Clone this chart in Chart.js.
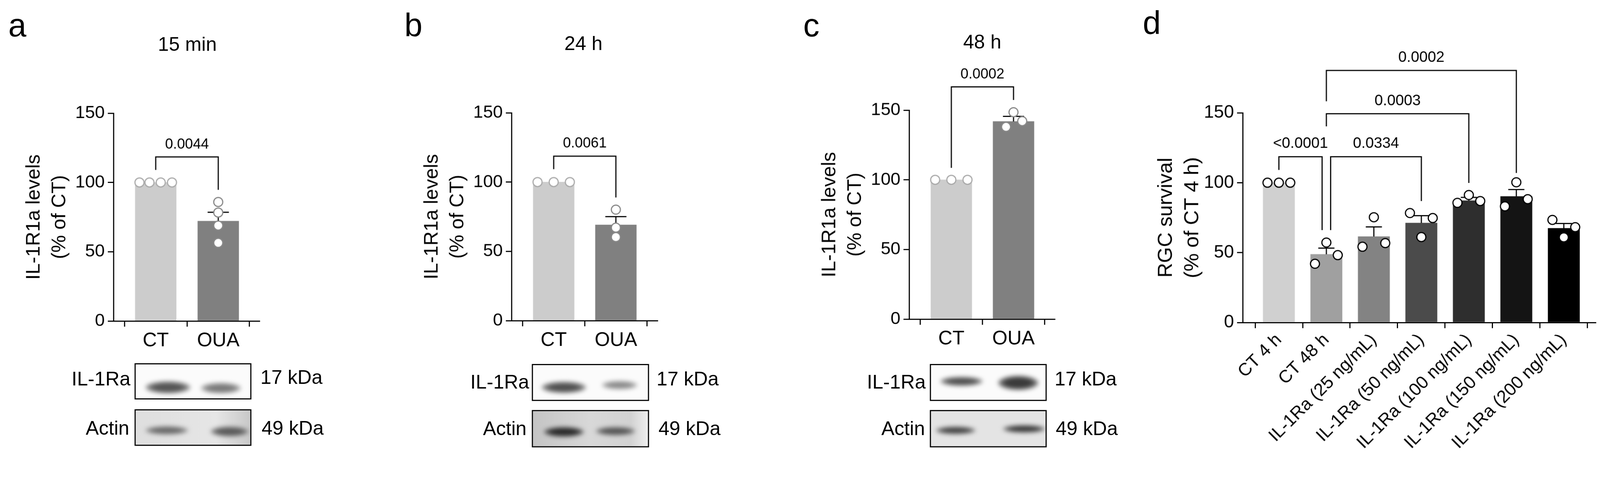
<!DOCTYPE html>
<html><head><meta charset="utf-8">
<script src="https://cdn.jsdelivr.net/npm/chart.js@4"></script>
<style>
html,body{margin:0;padding:0;overflow:hidden;background:#fff;}
#root{width:4245px;height:1233px;background:#fff;position:relative;overflow:hidden;font-family:"Liberation Sans",Arial,sans-serif;transform-origin:0 0;}
canvas{position:absolute;top:0;}
.t{position:absolute;color:#000;white-space:nowrap;line-height:1;}
.box{position:absolute;border:3px solid #000;overflow:hidden;box-sizing:border-box;}
.band{position:absolute;border-radius:50%;filter:blur(6px);}
</style></head><body><div id="root"></div>
<script>
// ---------- data ----------
const catsABC = ['CT','OUA'];
const titlesABC = ['15 min','24 h','48 h'];
const meanA = [100, 72.1], semTopA = [100, 78.5];
const ctPtsA = [100,100,100,100], ouaPtsA = [85.9,78.3,68.9,56.4];
const pA = '0.0044';
const meanB = [100, 69.1], semTopB = [100, 75.1];
const ctPtsB = [100,100,100], ouaPtsB = [80.1,67.1,60.3];
const pB = '0.0061';
const meanC = [100, 141.9], semTopC = [100, 145.5];
const ctPtsC = [100,100,100], ouaPtsC = [148.5,138.0,142.1];
const pC = '0.0002';
const catsD = ['CT 4 h','CT 48 h','IL-1Ra (25 ng/mL)','IL-1Ra (50 ng/mL)','IL-1Ra (100 ng/mL)','IL-1Ra (150 ng/mL)','IL-1Ra (200 ng/mL)'];
const meanD = [100, 48.8, 61.5, 71.2, 87.2, 90.2, 67.4];
const semTopD = [100, 53.2, 68.4, 76.4, 89.5, 95.1, 70.8];
const ptsD = [[100,100,100],[42.0,57.2,48.2],[54.2,75.3,56.8],[78.3,61.1,74.7],[85.6,91.2,86.9],[83.1,100.3,88.2],[73.4,60.9,68.2]];
const pD = ['<0.0001','0.0334','0.0003','0.0002'];
const yTicks = [0,50,100,150];

// ---------- layout / style (not data) ----------
const root=document.getElementById('root');
const sc=Math.min(window.innerWidth/4245, window.innerHeight/1233, 1);
if(sc<0.999) root.style.transform='scale('+sc+')';
const FONT = '"Liberation Sans", Arial, sans-serif';
const barColorsD = ['#d0d0d0','#a0a0a0','#838383','#4b4b4b','#2e2e2e','#141414','#000000'];
const jit4 = [-0.26,-0.1,0.08,0.26], jit3 = [-0.26,0,0.26], jitD = [-0.24,0,0.24];

const annot = {
  id:'annot',
  afterDatasetDraw(chart, args, o){
    if(args.index!==0) return;
    const c=chart.ctx, x=chart.scales.x, y=chart.scales.y;
    c.save(); c.strokeStyle='#000'; c.lineWidth=o.lw;
    o.err.forEach((e,i)=>{
      if(e.top<=e.mean) return;
      const px=x.getPixelForValue(i+1);
      c.beginPath(); c.moveTo(px,y.getPixelForValue(e.mean)); c.lineTo(px,y.getPixelForValue(e.top));
      c.moveTo(x.getPixelForValue(i+1-o.cap),y.getPixelForValue(e.top)); c.lineTo(x.getPixelForValue(i+1+o.cap),y.getPixelForValue(e.top));
      c.stroke();
    });
    c.restore();
  },
  afterDraw(chart, args, o){
    const c=chart.ctx, x=chart.scales.x, y=chart.scales.y;
    c.save(); c.strokeStyle='#000'; c.lineWidth=o.lw; c.fillStyle='#000';
    c.font=o.pf+'px '+FONT; c.textAlign='center'; c.textBaseline='bottom';
    o.br.forEach(b=>{
      const x1=x.getPixelForValue(b.x1), x2=x.getPixelForValue(b.x2), t=y.getPixelForValue(b.top);
      c.beginPath(); c.moveTo(x1,y.getPixelForValue(b.y1)); c.lineTo(x1,t); c.lineTo(x2,t); c.lineTo(x2,y.getPixelForValue(b.y2)); c.stroke();
      c.fillText(b.label,(x1+x2)/2,t-14);
    });
    c.restore();
  }
};

function makeChart(cfg){
  const L = cfg.ax - 290;
  const W = cfg.ae - L + 50;
  const H = Math.min(1233, cfg.y0 + cfg.xh + 20);
  const cv=document.createElement('canvas');
  cv.width=W; cv.height=H; cv.style.left=L+'px';
  root.appendChild(cv);
  const ds=[{type:'bar',data:cfg.means.map((v,i)=>({x:i+1,y:v})),backgroundColor:cfg.colors,barThickness:cfg.bw,order:1}];
  cfg.points.forEach((pts,i)=>{
    const jj = cfg.pjit ? cfg.pjit[i] : cfg.jd;
    ds.push({type:'scatter',data:pts.map((v,k)=>({x:i+1+jj[k],y:v})),pointRadius:cfg.pr,pointBackgroundColor:'#fff',
      pointBorderColor:cfg.pc[i],pointBorderWidth:3,clip:false,order:0});
  });
  const cats=cfg.cats;
  const pad={top:cfg.y150,right:50,left:20,bottom:10};
  const ch=new Chart(cv,{type:'bar',data:{datasets:ds},options:{
    responsive:false,animation:false,devicePixelRatio:1,
    layout:{padding:pad},
    plugins:{legend:{display:false},tooltip:{enabled:false},
      annot:{err:cfg.means.map((m,i)=>({mean:m,top:cfg.semTop[i]})),cap:0.17,lw:3,br:cfg.br,pf:cfg.pf}},
    scales:{
      x:{type:'linear',min:cfg.xmin,max:cfg.xmax,offset:false,
        afterBuildTicks:a=>{a.ticks=cats.map((c,i)=>({value:i+1}));},
        afterFit:a=>{a.height=cfg.xh;},
        ticks:{callback:(v,i)=>cats[i],color:'#000',font:{family:FONT,size:cfg.xf},padding:cfg.xpad||6,autoSkip:false,
          minRotation:cfg.rot||0,maxRotation:cfg.rot||0},
        grid:{drawOnChartArea:false,drawTicks:true,tickLength:15,color:'#000',lineWidth:3},
        border:{display:true,color:'#000',width:3}},
      y:{min:0,max:150,
        afterBuildTicks:a=>{a.ticks=yTicks.map(v=>({value:v}));},
        afterFit:a=>{a.width=cfg.yw;},
        ticks:{color:'#000',font:{family:FONT,size:cfg.yf},padding:8},
        grid:{drawOnChartArea:false,drawTicks:true,tickLength:15,color:'#000',lineWidth:3},
        border:{display:true,color:'#000',width:3},
        title:{display:true,text:cfg.ytitle,color:'#000',font:{family:FONT,size:cfg.ytf,lineHeight:cfg.ylh},padding:{top:cfg.ytp,bottom:0}}}
    }},plugins:[annot]});
  for(let k=0;k<3;k++){
    const ca=ch.chartArea;
    pad.left += (cfg.ax - L) - ca.left;
    pad.right += ca.right - (cfg.ae - L);
    pad.top += cfg.y150 - ca.top;
    pad.bottom += ca.bottom - cfg.y0;
    ch.options.layout.padding={...pad};
    ch.update();
  }
}

function txt(s,x,y,size,align){
  const d=document.createElement('div'); d.className='t'; d.textContent=s;
  d.style.fontSize=size+'px'; d.style.top=(y-size*0.5)+'px';
  if(align==='center'){d.style.left=x+'px';d.style.transform='translateX(-50%)';}
  else if(align==='right'){d.style.right=(4245-x)+'px';}
  else d.style.left=x+'px';
  root.appendChild(d);
}
function box(x1,y1,x2,y2,bg,bands){
  const b=document.createElement('div'); b.className='box';
  Object.assign(b.style,{left:x1+'px',top:y1+'px',width:(x2-x1)+'px',height:(y2-y1)+'px',background:bg});
  bands.forEach(([l,r,cy,h,col])=>{
    const d=document.createElement('div'); d.className='band';
    Object.assign(d.style,{left:(l-x1)+'px',width:(r-l)+'px',top:(cy-y1-h/2)+'px',height:h+'px',
      background:`radial-gradient(ellipse at center, ${col} 0%, ${col} 45%, rgba(0,0,0,0) 100%)`});
    b.appendChild(d);
  });
  root.appendChild(b);
}

const ytABC=['IL-1R1a levels','(% of CT)'];
const pcABC=['#aaaaaa','#888888'];
const colABC=['#cccccc','#808080'];
const abc={bw:109,pr:12,xh:90,xf:52,yf:47,yw:260,ytitle:ytABC,ytf:52,ylh:1.3,ytp:16,pf:38,colors:colABC,pc:pcABC,cats:catsABC};

makeChart({...abc,ax:301,ae:688,y150:300,y0:851,xmin:0.324,xmax:2.657,means:meanA,semTop:semTopA,
  points:[ctPtsA,ouaPtsA],pjit:[jit4,[0,0,0,0]],
  br:[{x1:1,x2:2,top:118.4,y1:109,y2:94.7,label:pA}]});
makeChart({...abc,ax:1357,ae:1744,y150:299,y0:850,xmin:0.321,xmax:2.667,means:meanB,semTop:semTopB,
  points:[ctPtsB,ouaPtsB],pjit:[jit3,[0,0,0]],
  br:[{x1:1,x2:2,top:118.7,y1:109.3,y2:88.9,label:pB}]});
makeChart({...abc,ax:2412,ae:2798,y150:292,y0:846,xmin:0.321,xmax:2.661,means:meanC,semTop:semTopC,
  points:[ctPtsC,ouaPtsC],pjit:[jit3,[0,-0.12,0.14]],
  br:[{x1:1,x2:2,top:166.7,y1:108.6,y2:157.3,label:pC}]});
makeChart({ax:3297,ae:4233,y150:299,y0:855,xmin:0.238,xmax:7.667,bw:84,cats:catsD,means:meanD,semTop:semTopD,
  colors:barColorsD,points:ptsD,jd:jitD,pc:catsD.map(()=>'#000'),pr:12,xh:360,xf:47,yf:48,yw:260,rot:45,xpad:4,
  ytitle:['RGC survival','(% of CT 4 h)'],ytf:54,ylh:1.3,ytp:22,pf:40,
  br:[{x1:1,x2:1.91,top:118.6,y1:109.1,y2:66.1,label:pD[0]},
      {x1:2.09,x2:4,top:118.6,y1:66.1,y2:86.9,label:pD[1]},
      {x1:2,x2:5,top:149.3,y1:140.3,y2:99.8,label:pD[2]},
      {x1:2,x2:6,top:180.3,y1:158.2,y2:107,label:pD[3]}]});

txt('a',22,66,86); txt('b',1073,66,86); txt('c',2131,66,86); txt('d',3032,60,86);
txt(titlesABC[0],497,117,52,'center'); txt(titlesABC[1],1548,115,52,'center'); txt(titlesABC[2],2606,111,52,'center');

// western blots (illustrative images)
box(357,963,667,1059,'#fbfbfb',[[383,502,1024,32,'#555'],[530,636,1026,28,'#7a7a7a']]);
box(357,1085,667,1182,'linear-gradient(90deg,#dedede,#e6e6e6 70%,#c8c8c8)',[[383,496,1138,22,'#6a6a6a'],[556,656,1141,26,'#5a5a5a']]);
box(1411,965,1722,1063,'#fbfbfb',[[1434,1552,1024,30,'#505050'],[1594,1688,1018,22,'#8a8a8a']]);
box(1411,1087,1722,1186,'linear-gradient(90deg,#c4c4c4,#d8d8d8 50%,#d2d2d2 85%,#eeeeee)',[[1440,1546,1142,26,'#2a2a2a'],[1578,1682,1140,22,'#555']]);
box(2467,965,2777,1063,'#fbfbfb',[[2492,2604,1008,24,'#505050'],[2645,2752,1012,38,'#3a3a3a']]);
box(2467,1087,2777,1186,'#e4e4e4',[[2480,2585,1138,20,'#444'],[2658,2770,1134,20,'#3a3a3a']]);

txt('IL-1Ra',346,1004,52,'right'); txt('17 kDa',691,1000,52); txt('Actin',343,1134,52,'right'); txt('49 kDa',694,1134,52);
txt('IL-1Ra',1404,1012,52,'right'); txt('17 kDa',1742,1004,52); txt('Actin',1397,1136,52,'right'); txt('49 kDa',1747,1136,52);
txt('IL-1Ra',2456,1012,52,'right'); txt('17 kDa',2798,1004,52); txt('Actin',2454,1136,52,'right'); txt('49 kDa',2801,1136,52);
</script>
</body></html>
